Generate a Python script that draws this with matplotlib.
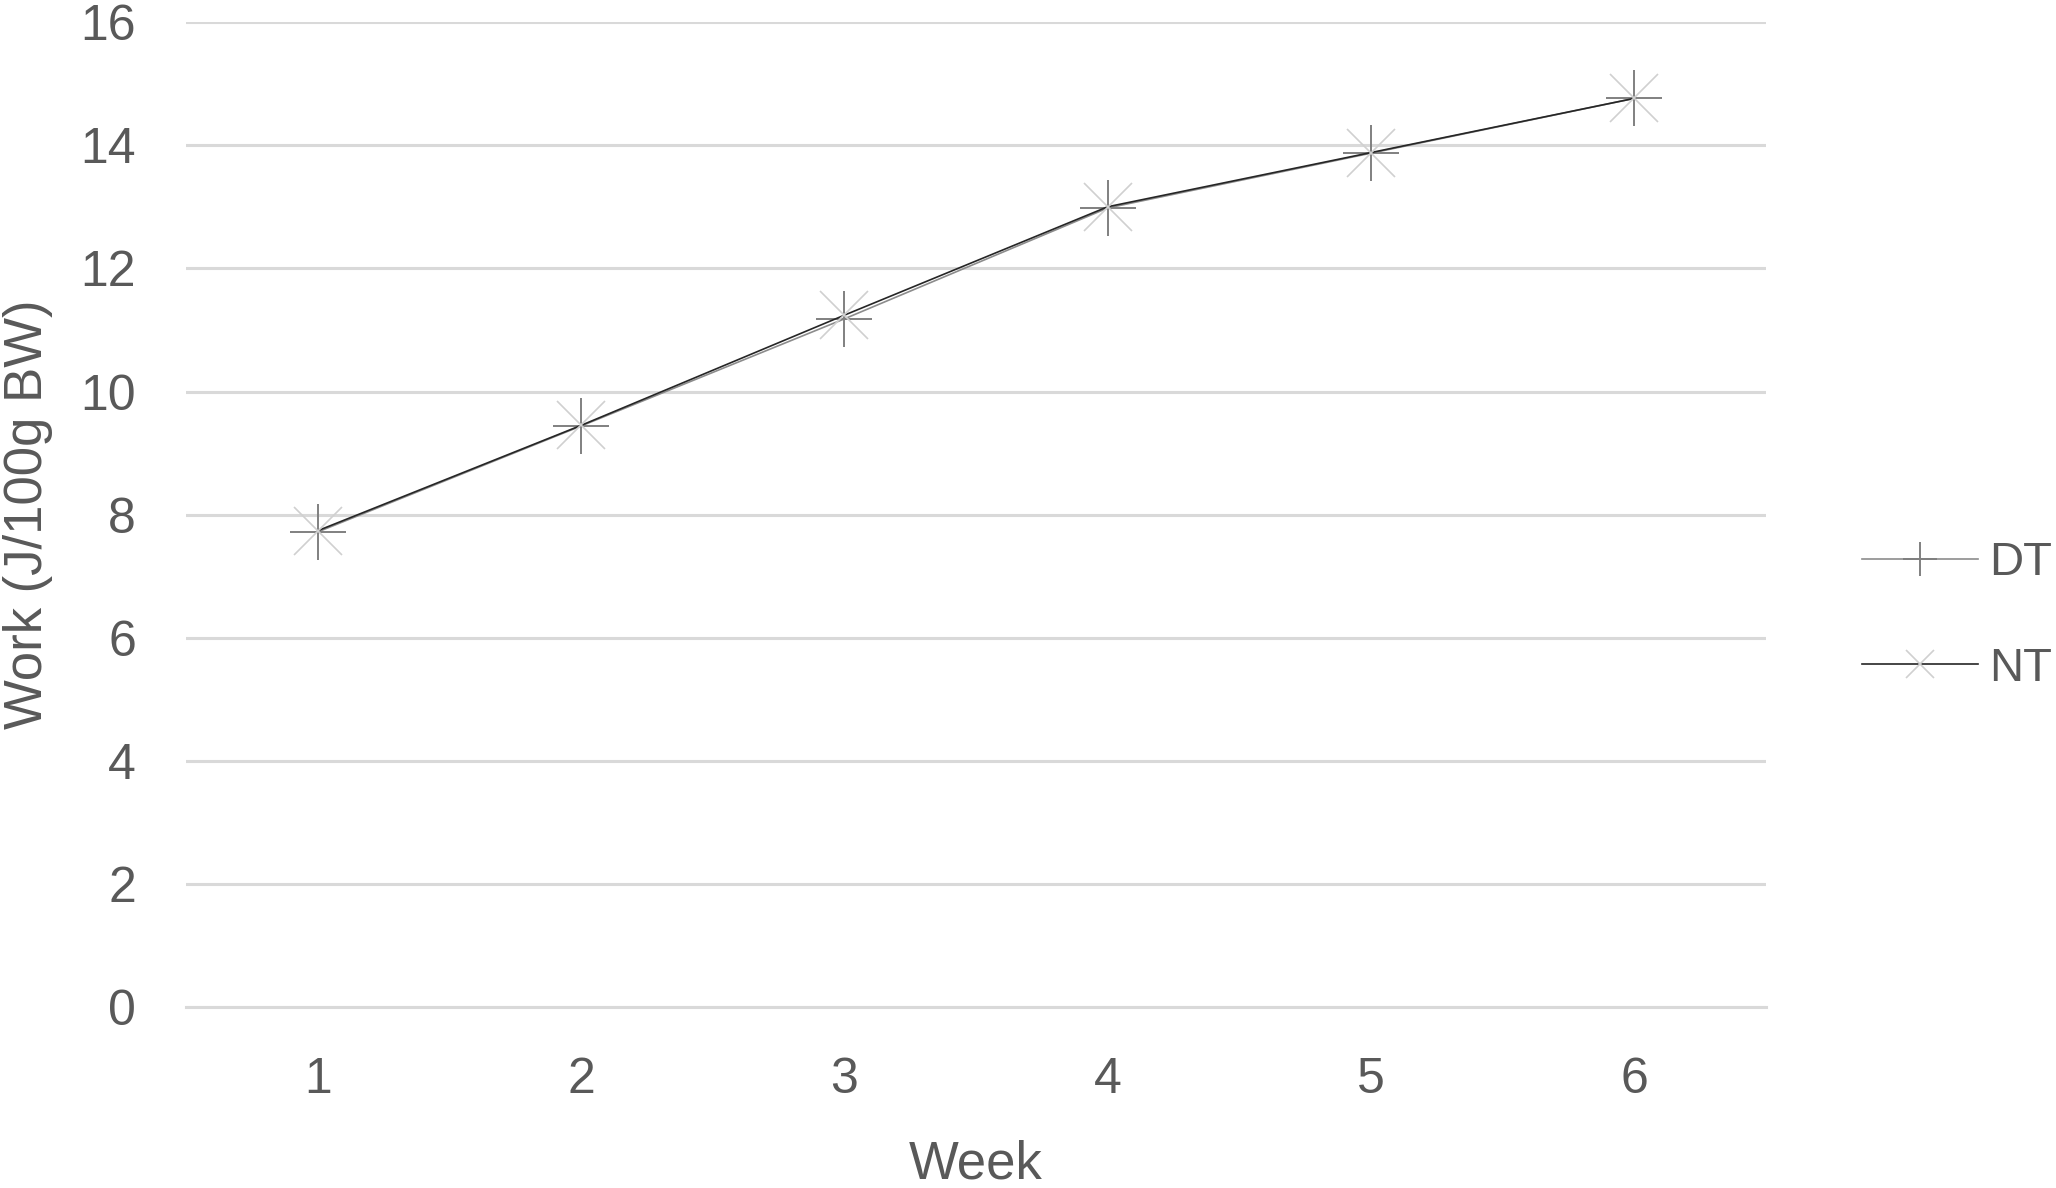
import matplotlib
matplotlib.use("Agg")
import matplotlib.pyplot as plt

plt.rcParams['font.family'] = ['Liberation Sans', 'DejaVu Sans']

weeks = [1, 2, 3, 4, 5, 6]
week_labels = ["1", "2", "3", "4", "5", "6"]
dt_work = [7.72, 9.44, 11.18, 12.98, 13.87, 14.76]
nt_work = [7.74, 9.45, 11.24, 13.00, 13.88, 14.76]

txt = "#595959"

fig = plt.figure(figsize=(10.28, 5.94), dpi=200)
ax = fig.add_axes([0.0905, 0.152, 0.7685, 0.8295])

ax.plot(weeks, dt_work, color="#8c8c8c", linewidth=0.6, marker="+",
        markersize=20, markeredgecolor="#808080", markeredgewidth=0.7,
        label="DT", zorder=3)
ax.plot(weeks, nt_work, color="#262626", linewidth=0.6, marker="x",
        markersize=17, markeredgecolor="#d0d0d0", markeredgewidth=0.6,
        label="NT", zorder=4)

ax.set_xlim(0.5, 6.5)
ax.set_ylim(0, 16)
ax.set_yticks(range(0, 17, 2))
ax.set_xticks(weeks)
ax.set_xticklabels(week_labels)
ax.yaxis.grid(True, color="#d9d9d9", linewidth=1.1)
ax.set_axisbelow(True)
for s in ax.spines.values():
    s.set_visible(False)
ax.spines['bottom'].set_visible(True)
ax.spines['bottom'].set_color("#d9d9d9")
ax.spines['bottom'].set_linewidth(1.1)
ax.tick_params(axis="both", length=0, labelsize=18, labelcolor=txt)
ax.tick_params(axis="x", pad=18)
ax.tick_params(axis="y", pad=18)

ax.set_xlabel("Week", fontsize=19, color=txt, labelpad=13)
ax.set_ylabel("Work (J/100g BW)", fontsize=19, color=txt, labelpad=10)

leg = fig.legend(loc="center left", bbox_to_anchor=(0.9056, 0.4815), frameon=False,
                 fontsize=17, handlelength=2.45, markerscale=0.6,
                 labelspacing=1.3, handletextpad=0.25, borderpad=0,
                 borderaxespad=0)
for t in leg.get_texts():
    t.set_color(txt)

fig.savefig("out.png", dpi=200, facecolor="white")
